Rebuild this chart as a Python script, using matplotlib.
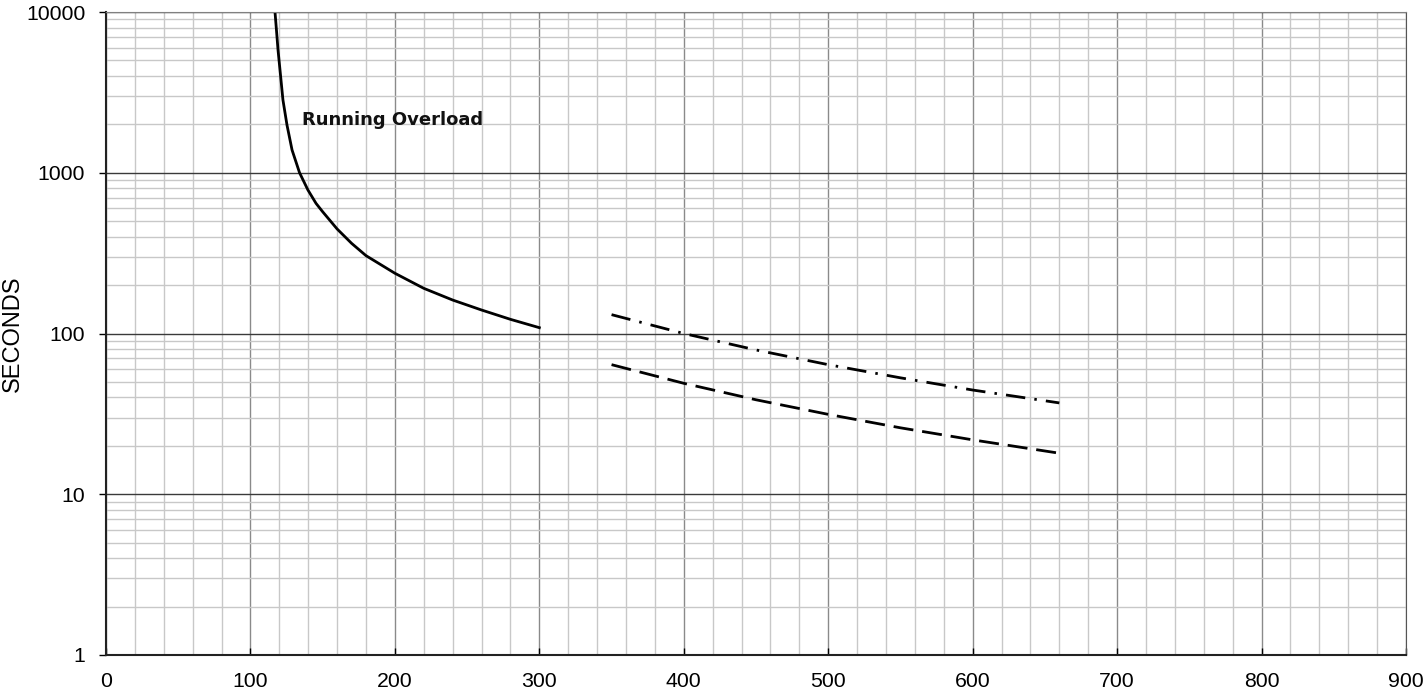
import numpy as np
import matplotlib
matplotlib.use("Agg")
import matplotlib.pyplot as plt
from matplotlib.ticker import FixedLocator, NullFormatter

plt.rcParams['font.family'] = ['Liberation Sans', 'DejaVu Sans']

# curva de sobrecarga
overload_x = [117, 118, 119.1, 120.8, 122.5, 125.3, 128.8, 134, 139.8, 145.4, 150, 160, 170, 180,
              200, 220, 240, 260, 280, 300]
overload_y = [10000, 7730, 5800, 4060, 2836, 1981, 1386, 1000, 781, 645, 572, 447, 364, 305,
              237, 191, 161.5, 140, 122.5, 108.7]

# curvas a rayas
upper_x = [350, 400, 450, 500, 550, 600, 660]
upper_y = [131, 100, 79, 64, 53, 44.5, 37]
lower_x = [350, 400, 450, 500, 550, 600, 660]
lower_y = [64, 49, 38.7, 31.4, 25.9, 21.8, 18]

x_ticks = [0, 100, 200, 300, 400, 500, 600, 700, 800, 900]
y_ticks = [1, 10, 100, 1000, 10000]
y_labels = ['1', '10', '100', '1000', '10000']

fig = plt.figure(figsize=(14.26, 6.94), dpi=100)
ax = fig.add_axes([106/1426, 39/694, 1300/1426, 643/694])

ax.set_yscale('log')
ax.set_xlim(0, 900)
ax.set_ylim(1, 10000)

# rejilla
ax.xaxis.set_minor_locator(FixedLocator(np.arange(0, 901, 20)))
minor_y = [m * 10**d for d in range(0, 4) for m in range(2, 10)]
ax.yaxis.set_minor_locator(FixedLocator(minor_y))
ax.yaxis.set_minor_formatter(NullFormatter())
ax.grid(which='minor', axis='both', color='#c8c8c8', linewidth=1.0)
ax.grid(which='major', axis='x', color='#8a8a8a', linewidth=1.0)
ax.grid(which='major', axis='y', color='#3a3a3a', linewidth=1.0)
ax.set_axisbelow(True)

ax.set_xticks(x_ticks)
ax.set_yticks(y_ticks)
ax.set_yticklabels(y_labels)
ax.tick_params(axis='x', which='major', direction='in', length=5, width=1, pad=12, labelsize=15.3)
ax.tick_params(axis='y', which='major', direction='out', length=5, width=1, pad=10, labelsize=15.3)
ax.tick_params(which='minor', length=0)

for s in ['left', 'bottom']:
    ax.spines[s].set_color('#222222')
    ax.spines[s].set_linewidth(1.5)
ax.spines['top'].set_color('#808080')
ax.spines['right'].set_color('#555555')

ax.plot(overload_x, overload_y, color='black', linewidth=2.0)
ax.plot(upper_x, upper_y, color='black', linewidth=2.0,
        dashes=(7.0, 3.3, 0.9, 3.3))
ax.plot(lower_x, lower_y, color='black', linewidth=2.0,
        dashes=(7.2, 3.2))

ax.text(136, 2130, 'Running Overload', fontsize=13, fontweight='bold',
        family='DejaVu Sans', va='center', ha='left', color='#111111')

ax.set_ylabel('SECONDS', fontsize=17)
ax.yaxis.set_label_coords(-82/1300, 0.5)

fig.savefig('out.png', dpi=100)
